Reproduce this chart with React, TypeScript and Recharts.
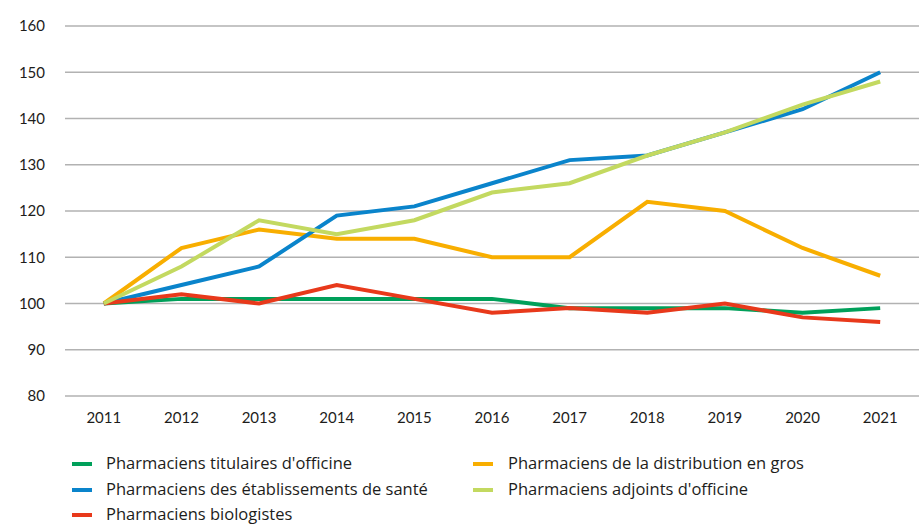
import React from "react";
import { LineChart, Line, XAxis, YAxis, CartesianGrid, Legend } from "recharts";

const years = ["2011", "2012", "2013", "2014", "2015", "2016", "2017", "2018", "2019", "2020", "2021"];
const titulaires = [100, 101, 101, 101, 101, 101, 99, 99, 99, 98, 99];
const distribution = [100, 112, 116, 114, 114, 110, 110, 122, 120, 112, 106];
const etablissements = [100, 104, 108, 119, 121, 126, 131, 132, 137, 142, 150];
const adjoints = [100, 108, 118, 115, 118, 124, 126, 132, 137, 143, 148];
const biologistes = [100, 102, 100, 104, 101, 98, 99, 98, 100, 97, 96];
const yTicks = [80, 90, 100, 110, 120, 130, 140, 150, 160];

const series = [
  { key: "titulaires", name: "Pharmaciens titulaires d'officine", color: "#00A05A" },
  { key: "distribution", name: "Pharmaciens de la distribution en gros", color: "#F8AE00" },
  { key: "etablissements", name: "Pharmaciens des établissements de santé", color: "#0A84CB" },
  { key: "adjoints", name: "Pharmaciens adjoints d'officine", color: "#C3D960" },
  { key: "biologistes", name: "Pharmaciens biologistes", color: "#E8391B" },
];
const drawOrder = ["titulaires", "distribution", "etablissements", "biologistes", "adjoints"];

const data = years.map((y, i) => ({
  year: y,
  titulaires: titulaires[i],
  distribution: distribution[i],
  etablissements: etablissements[i],
  adjoints: adjoints[i],
  biologistes: biologistes[i],
}));

const FONT = "Lato, 'Open Sans', sans-serif";
const LEGEND_FONT = "'Open Sans', Lato, sans-serif";

const renderLegend = () => (
  <div style={{ position: "relative", width: 919, height: 99, fontFamily: LEGEND_FONT }}>
    {series.map((s, i) => {
      const col = i % 2;
      const row = Math.floor(i / 2);
      const cy = 37 + row * 25.5;
      const mx = col === 0 ? 72 : 473;
      const tx = col === 0 ? 106 : 508;
      return (
        <React.Fragment key={s.key}>
          <div style={{ position: "absolute", left: mx, top: cy - 1, width: 20, height: 4, background: s.color }} />
          <div style={{ position: "absolute", left: tx, top: cy - 10, fontSize: 16.5, lineHeight: "19px", color: "#1d1d1b", whiteSpace: "nowrap" }}>
            {s.name}
          </div>
        </React.Fragment>
      );
    })}
  </div>
);

export default function App() {
  return (
    <div style={{ position: "absolute", left: 0, top: 0, width: 919, height: 525, background: "#fff" }}>
      <LineChart width={919} height={525} data={data} margin={{ top: 26, right: 0, left: 0, bottom: 0 }}>
        <CartesianGrid horizontal vertical={false} stroke="#b2b2b2" strokeWidth={1.5} />
        <XAxis
          dataKey="year"
          axisLine={false}
          tickLine={false}
          height={30}
          tickMargin={10}
          padding={{ left: 38.8, right: 38.8 }}
          tick={{ fill: "#1d1d1b", fontSize: 15, fontFamily: FONT }}
          interval={0}
        />
        <YAxis
          domain={[80, 160]}
          ticks={yTicks}
          width={65}
          axisLine={false}
          tickLine={false}
          tickMargin={14}
          tick={{ fill: "#1d1d1b", fontSize: 15, fontFamily: FONT }}
        />
        <Legend verticalAlign="bottom" content={renderLegend} wrapperStyle={{ left: 0, width: 919, height: 99 }} />
        {drawOrder.map((k) => {
          const s = series.find((x) => x.key === k)!;
          return (
            <Line
              key={k}
              type="linear"
              dataKey={k}
              name={s.name}
              stroke={s.color}
              strokeWidth={4}
              dot={false}
              activeDot={false}
              isAnimationActive={false}
            />
          );
        })}
      </LineChart>
    </div>
  );
}
